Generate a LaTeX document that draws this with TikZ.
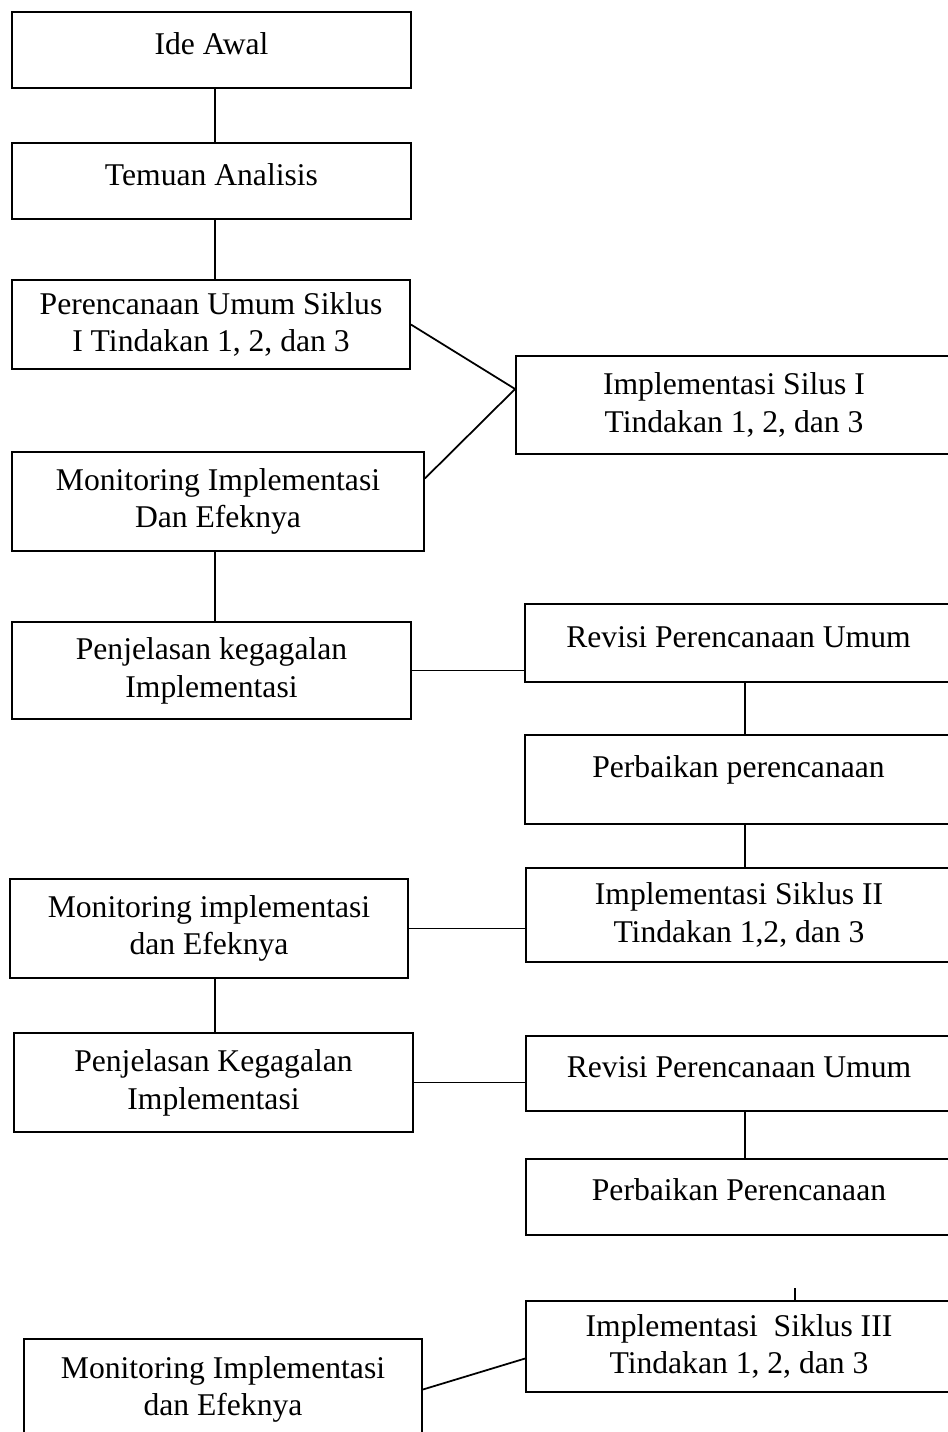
\documentclass[tikz,border=0pt]{standalone}
\usepackage{fontspec}
\setmainfont{Liberation Serif}
\usetikzlibrary{positioning, calc}

\begin{document}
\begin{tikzpicture}[
    % one unit = one pixel of the page, y runs downwards
    x=0.2mm, y=-0.2mm,
    box/.style={rectangle, draw, line width=1pt, align=center, inner sep=2pt, font=\fontsize{18}{21.5}\selectfont},
    oneline/.style={text height=0.44cm, text depth=0.28cm},
    link/.style={line width=1pt}
]
    \useasboundingbox (0,0) rectangle (948,1432);

    % 1. Left column (absolute positions)
    \node[box, oneline, minimum width=7.98cm, minimum height=1.52cm] (ide) at (211.5,50) {Ide Awal};
    \node[box, oneline, minimum width=7.98cm, minimum height=1.52cm] (temuan) at (211.5,181) {Temuan Analisis};
    \node[box, minimum width=7.96cm, minimum height=1.78cm] (renc1) at (211,324.5) {Perencanaan Umum Siklus\\ I Tindakan 1, 2, dan 3};
    \node[box, minimum width=8.24cm, minimum height=1.98cm] (mon1) at (218,501.5) {Monitoring Implementasi\\ Dan Efeknya};
    \node[box, minimum width=7.98cm, minimum height=1.94cm] (jelas1) at (211.5,670.5) {Penjelasan kegagalan\\ Implementasi};
    \node[box, minimum width=7.96cm, minimum height=1.98cm] (mon2) at (209,928.5) {Monitoring implementasi\\ dan Efeknya};
    \node[box, minimum width=7.98cm, minimum height=1.98cm] (jelas2) at (213.5,1082.5) {Penjelasan Kegagalan\\ Implementasi};
    \node[box, minimum width=7.96cm, minimum height=2.02cm] (mon3) at (223,1389.5) {Monitoring Implementasi\\ dan Efeknya};

    % 2. Right column (boxes run off the right edge)
    \node[box, minimum width=8.72cm, minimum height=1.96cm] (impl1) at (734,405) {Implementasi Silus I\\ Tindakan 1, 2, dan 3};
    \node[box, oneline, minimum width=8.54cm, minimum height=1.56cm] (rev1) at (738.5,643) {Revisi Perencanaan Umum};
    \node[box, oneline, text depth=0.52cm, minimum width=8.54cm, minimum height=1.78cm] (baik1) [below=1.02cm of rev1] {Perbaikan perencanaan};
    \node[box, minimum width=8.52cm, minimum height=1.88cm] (impl2) at (739,915) {Implementasi Siklus II\\ Tindakan 1,2, dan 3};
    \node[box, oneline, minimum width=8.52cm, minimum height=1.5cm] (rev2) at (739,1073.5) {Revisi Perencanaan Umum};
    \node[box, oneline, minimum width=8.52cm, minimum height=1.52cm] (baik2) [below=0.92cm of rev2] {Perbaikan Perencanaan};
    \node[box, minimum width=8.52cm, minimum height=1.82cm] (impl3) at (739,1346.5) {Implementasi\ \ Siklus III\\ Tindakan 1, 2, dan 3};

    % 3. Column lines and loose stub
    \coordinate (lcol) at (215,0);
    \coordinate (rcol) at (745,0);
    \coordinate (stub) at (795,1288);

    % 4. Connectors
    \draw[link] (ide.south -| lcol) -- (temuan.north -| lcol);
    \draw[link] (temuan.south -| lcol) -- (renc1.north -| lcol);
    \draw[link] (renc1.east) -- ($(impl1.west)+(0,-16)$) coordinate (join1);
    \draw[link] ($(mon1.east)+(0,-23)$) -- (join1);
    \draw[link] (mon1.south -| lcol) -- (jelas1.north -| lcol);
    \draw[link] (jelas1.east) -- (jelas1.east -| rev1.west);
    \draw[link] (rev1.south -| rcol) -- (baik1.north -| rcol);
    \draw[link] (baik1.south -| rcol) -- (impl2.north -| rcol);
    \draw[link] (mon2.east) -- (mon2.east -| impl2.west);
    \draw[link] (mon2.south -| lcol) -- (jelas2.north -| lcol);
    \draw[link] (jelas2.east) -- (jelas2.east -| rev2.west);
    \draw[link] (rev2.south -| rcol) -- (baik2.north -| rcol);
    \draw[link] (stub) -- (stub |- impl3.north);
    \draw[link] (mon3.east) -- ($(impl3.west)+(0,12)$);

\end{tikzpicture}
\end{document}
